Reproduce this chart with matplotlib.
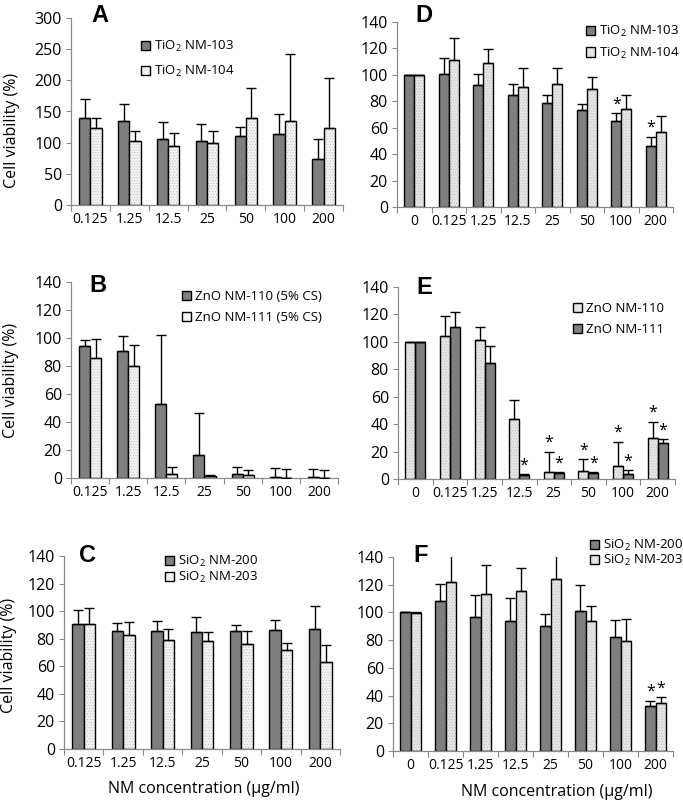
import matplotlib
matplotlib.use("Agg")
import matplotlib.pyplot as plt
import numpy as np

plt.rcParams['font.family'] = ['Open Sans', 'DejaVu Sans']
plt.rcParams['mathtext.fontset'] = 'custom'
plt.rcParams['mathtext.rm'] = 'Open Sans'
plt.rcParams['mathtext.it'] = 'Open Sans'
plt.rcParams['mathtext.bf'] = 'Open Sans:bold'
plt.rcParams['hatch.linewidth'] = 0.5

# ---------------- data ----------------
conc7 = ['0.125', '1.25', '12.5', '25', '50', '100', '200']
conc8 = ['0', '0.125', '1.25', '12.5', '25', '50', '100', '200']

# A: TiO2 (first set, 7 concentrations)
a_103 = [140, 134, 106, 102, 111, 114, 74]
a_103_sd = [30, 28, 27, 28, 14, 32, 32]
a_104 = [124, 102, 94, 100, 140, 134, 124]
a_104_sd = [16, 16, 22, 19, 48, 109, 80]

# B: ZnO (5% CS)
b_110 = [94, 91, 53, 16.5, 3, 1, 1]
b_110_sd = [4.6, 10.4, 49, 30, 5, 6, 5.5]
b_111 = [86, 80, 3, 1.4, 2, 0, 0]
b_111_sd = [13.5, 15, 5, 0.5, 3.5, 6.5, 5.5]

# C: SiO2
c_200 = [91, 85.5, 85.5, 84.6, 85.5, 86.5, 87.2]
c_200_sd = [10, 6, 7.3, 11.4, 4.5, 7.2, 16.4]
c_203 = [91, 83, 79.3, 78.3, 76.4, 72, 63]
c_203_sd = [11.4, 8.8, 8, 6.3, 9.4, 4.6, 12.7]

# D: TiO2 (8 concentrations)
d_103 = [100, 100.4, 92.1, 84.5, 79, 73.2, 64.8, 46.4]
d_103_sd = [0, 12.4, 8.3, 8.3, 5.5, 4.8, 6.3, 6.8]
d_103_sig = [0, 0, 0, 0, 0, 0, 1, 1]
d_104 = [100, 111, 109.2, 91, 93.1, 89.3, 74.2, 57]
d_104_sd = [0, 17, 10, 14.4, 12, 9.3, 10.3, 12]
d_104_sig = [0, 0, 0, 0, 0, 0, 0, 0]

# E: ZnO
e_110 = [100, 104.6, 101.7, 43.7, 4.9, 5.6, 9.2, 30.1]
e_110_sd = [0, 14.4, 9, 13.6, 15, 8.7, 18, 11.6]
e_110_sig = [0, 0, 0, 0, 1, 1, 1, 1]
e_111 = [100, 110.7, 84.5, 3.2, 4.1, 4.1, 3.6, 26.5]
e_111_sd = [0, 10.9, 12.6, 0.4, 0.8, 0.8, 2.7, 2.6]
e_111_sig = [0, 0, 0, 1, 1, 1, 1, 1]

# F: SiO2
f_200 = [100, 108, 96.4, 93.6, 90, 101, 82, 32.6]
f_200_sd = [0, 12.8, 16.2, 16.8, 9, 19, 12.4, 3.6]
f_200_sig = [0, 0, 0, 0, 0, 0, 0, 1]
f_203 = [99.4, 122.2, 113.5, 115.2, 124, 93.6, 79.2, 35]
f_203_sd = [0.6, 23, 20.5, 17.1, 21, 10.8, 16.1, 3.9]
f_203_sig = [0, 0, 0, 0, 0, 0, 0, 1]

# ---------------- style ----------------
DARK = '#7f7f7f'
LIGHT1 = '#f3f3f3'   # panels A-C
LIGHT2 = '#e6e6e6'   # panels D-F
AXC = '#8a8a8a'
W = 683.0
H = 800.0
BW = 0.29

fig = plt.figure(figsize=(6.83, 8.0), dpi=100)


def rect(l, t, r, b):
    return [l / W, 1 - b / H, (r - l) / W, (b - t) / H]


def panel(box, cats, series, ymax, ystep, letter, letter_xy, leg_xy, leg_spacing,
          light_face):
    ax = fig.add_axes(rect(*box))
    n = len(cats)
    x = np.arange(n)
    handles = []
    for k, (vals, sd, sig, kind, label) in enumerate(series):
        off = (k - 0.5) * BW
        xs = x + off
        if kind == 'dark':
            h = ax.bar(xs, vals, BW, color=DARK, edgecolor='black', linewidth=1.0,
                       label=label, zorder=2)
        else:
            ax.bar(xs, vals, BW, color=light_face, edgecolor='#c2c2c2', linewidth=0,
                   hatch='......', zorder=2)
            ax.bar(xs, vals, BW, fill=False, edgecolor='black', linewidth=1.0,
                   zorder=3)
            h = ax.bar(xs, [0] * n, BW, color=light_face, edgecolor='black',
                       linewidth=1.0, label=label, zorder=1)
        handles.append(h)
        lower = np.zeros(n)
        ax.errorbar(xs, vals, yerr=[lower, sd], fmt='none', ecolor='black',
                    elinewidth=1.0, capsize=3.5, capthick=1.0, zorder=4)
        if sig is not None:
            for xi, v, s, g in zip(xs, vals, sd, sig):
                if g:
                    ax.annotate('*', (xi, v + s), xytext=(0, 3.5),
                                textcoords='offset points', ha='center',
                                va='baseline', fontsize=11.5, zorder=5)
    ax.set_xlim(-0.5, n - 0.5)
    ax.set_ylim(0, ymax)
    ax.set_yticks(np.arange(0, ymax + 1, ystep))
    ax.set_xticks(x)
    ax.set_xticklabels(cats, fontsize=10)
    ax.set_xticks(np.arange(n + 1) - 0.5, minor=True)
    ax.tick_params(axis='x', which='major', length=0, pad=5)
    ax.tick_params(axis='x', which='minor', length=4, width=0.8, color=AXC,
                   direction='out')
    ax.tick_params(axis='y', length=3.5, width=0.8, color=AXC, labelsize=11.5, pad=3)
    for s in ['top', 'right']:
        ax.spines[s].set_visible(False)
    for s in ['left', 'bottom']:
        ax.spines[s].set_color(AXC)
        ax.spines[s].set_linewidth(0.9)
    ax.set_facecolor('none')
    fig.text(letter_xy[0] / W, 1 - letter_xy[1] / H, letter, fontsize=17,
             fontweight='bold', family='Liberation Sans', ha='center', va='center')
    ax.legend(handles=handles, loc='upper left',
              bbox_to_anchor=(leg_xy[0] / W, 1 - leg_xy[1] / H),
              bbox_transform=fig.transFigure, frameon=False, fontsize=9.5,
              handlelength=0.7, handleheight=0.7, handletextpad=0.3,
              labelspacing=leg_spacing, borderpad=0, borderaxespad=0)
    return ax


panel((71, 18, 343, 205), conc7,
      [(a_103, a_103_sd, None, 'dark', 'TiO$_2$ NM-103'),
       (a_104, a_104_sd, None, 'light', 'TiO$_2$ NM-104')],
      300, 50, 'A', (100, 15), (141, 39), 0.75, LIGHT1)

panel((397, 22, 673, 207), conc8,
      [(d_103, d_103_sd, d_103_sig, 'dark', 'TiO$_2$ NM-103'),
       (d_104, d_104_sd, d_104_sig, 'light', 'TiO$_2$ NM-104')],
      140, 20, 'D', (424, 15), (586, 24), 0.5, LIGHT2)

panel((71, 282, 338, 478), conc7,
      [(b_110, b_110_sd, None, 'dark', 'ZnO NM-110 (5% CS)'),
       (b_111, b_111_sd, None, 'light', 'ZnO NM-111 (5% CS)')],
      140, 20, 'B', (98, 285), (182, 290), 0.6, LIGHT1)

panel((398, 287, 675, 479), conc8,
      [(e_110, e_110_sd, e_110_sig, 'light', 'ZnO NM-110'),
       (e_111, e_111_sd, e_111_sig, 'dark', 'ZnO NM-111')],
      140, 20, 'E', (424, 288), (573, 302), 0.62, LIGHT2)

panel((64, 556, 340, 749), conc7,
      [(c_200, c_200_sd, None, 'dark', 'SiO$_2$ NM-200'),
       (c_203, c_203_sd, None, 'light', 'SiO$_2$ NM-203')],
      140, 20, 'C', (87, 556), (165, 554), 0.05, LIGHT1)

panel((393, 557, 673, 751), conc8,
      [(f_200, f_200_sd, f_200_sig, 'dark', 'SiO$_2$ NM-200'),
       (f_203, f_203_sd, f_203_sig, 'light', 'SiO$_2$ NM-203')],
      140, 20, 'F', (421, 556), (590, 538), 0.0, LIGHT2)

# axis titles
for (xx, yy) in [(12, 130), (11, 380), (9, 655)]:
    fig.text(xx / W, 1 - yy / H, 'Cell viability (%)', rotation=90, fontsize=11.5,
             ha='center', va='center')
fig.text(204 / W, 1 - 789 / H, 'NM concentration (µg/ml)', fontsize=11.5,
         ha='center', va='center')
fig.text(557 / W, 1 - 792 / H, 'NM concentration (µg/ml)', fontsize=11.5,
         ha='center', va='center')

fig.savefig('out.png', dpi=100, facecolor='white')
